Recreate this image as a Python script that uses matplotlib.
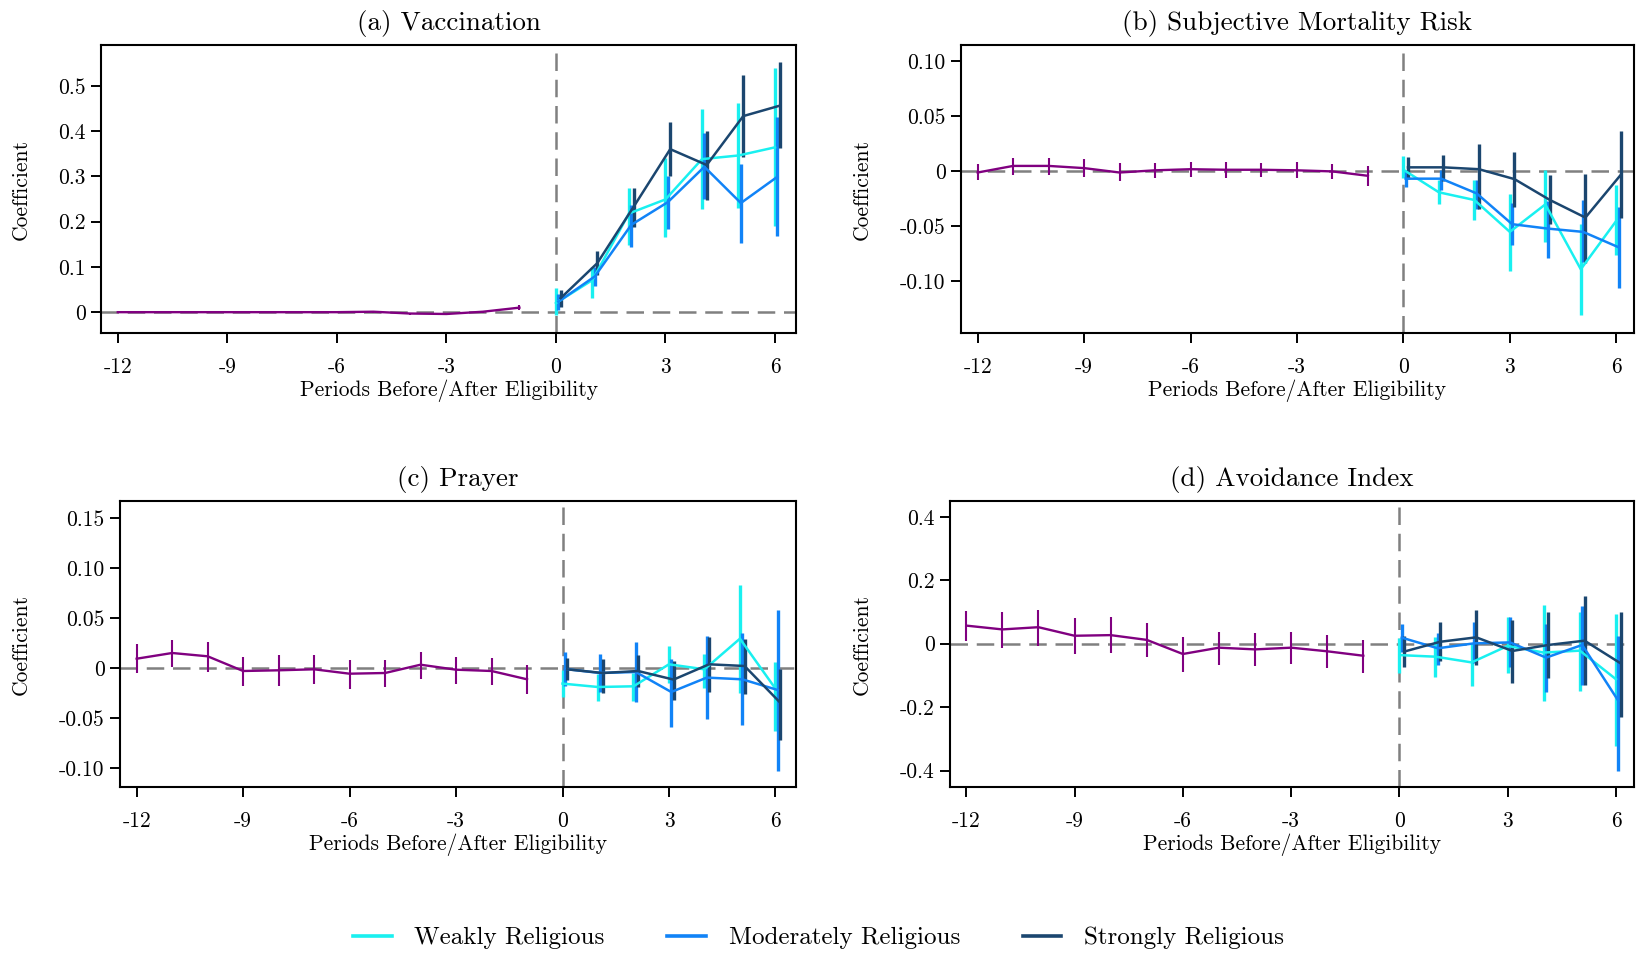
import numpy as np
import matplotlib
matplotlib.use("Agg")
import matplotlib.pyplot as plt
from matplotlib.lines import Line2D

plt.rcParams["font.family"] = ["cmr10", "DejaVu Serif"]
plt.rcParams["mathtext.fontset"] = "cm"
plt.rcParams["axes.unicode_minus"] = False

# event time
pre_periods = np.arange(-12, 0)
post_periods = np.arange(0, 7)
xtick_vals = [-12, -9, -6, -3, 0, 3, 6]
xtick_labels = ["-12", "-9", "-6", "-3", "0", "3", "6"]

groups = ["Weakly Religious", "Moderately Religious", "Strongly Religious"]

# (a) Vaccination
a_pre_coef = [0, 0, 0, 0, 0, 0, 0, 0.001, -0.003, -0.004, 0.001, 0.010]
a_pre_lo = [-0.001, -0.001, -0.001, -0.001, -0.001, -0.001, -0.001, -0.001, -0.006, -0.006, -0.001, 0.004]
a_pre_hi = [0.001, 0.001, 0.001, 0.001, 0.001, 0.002, 0.002, 0.002, -0.002, -0.002, 0.003, 0.015]
a_weak_coef = [0.020, 0.071, 0.218, 0.249, 0.338, 0.346, 0.364]
a_weak_lo = [-0.006, 0.031, 0.149, 0.166, 0.227, 0.230, 0.191]
a_weak_hi = [0.053, 0.100, 0.274, 0.340, 0.448, 0.461, 0.539]
a_mod_coef = [0.023, 0.079, 0.193, 0.243, 0.321, 0.241, 0.299]
a_mod_lo = [0.005, 0.057, 0.143, 0.184, 0.249, 0.152, 0.168]
a_mod_hi = [0.040, 0.100, 0.237, 0.301, 0.396, 0.327, 0.430]
a_strong_coef = [0.031, 0.108, 0.233, 0.360, 0.325, 0.433, 0.456]
a_strong_lo = [0.012, 0.082, 0.188, 0.301, 0.248, 0.343, 0.362]
a_strong_hi = [0.049, 0.136, 0.274, 0.419, 0.399, 0.524, 0.553]

# (b) Subjective Mortality Risk
b_pre_coef = [-0.001, 0.005, 0.005, 0.003, -0.001, 0.001, 0.002, 0.0015, 0.0015, 0.001, 0.000, -0.004]
b_pre_lo = [-0.008, -0.003, -0.003, -0.005, -0.009, -0.006, -0.005, -0.006, -0.005, -0.006, -0.007, -0.013]
b_pre_hi = [0.007, 0.012, 0.012, 0.011, 0.008, 0.008, 0.009, 0.009, 0.008, 0.009, 0.007, 0.005]
b_weak_coef = [0.0015, -0.019, -0.026, -0.055, -0.030, -0.089, -0.045]
b_weak_lo = [-0.006, -0.030, -0.044, -0.091, -0.064, -0.131, -0.076]
b_weak_hi = [0.014, -0.0075, -0.008, -0.021, 0.0015, -0.048, -0.012]
b_mod_coef = [-0.0066, -0.0066, -0.020, -0.048, -0.052, -0.055, -0.069]
b_mod_lo = [-0.014, -0.017, -0.034, -0.067, -0.079, -0.082, -0.106]
b_mod_hi = [0.0015, 0.0015, -0.0076, -0.029, -0.027, -0.026, -0.032]
b_strong_coef = [0.0037, 0.0037, 0.002, -0.007, -0.026, -0.042, -0.003]
b_strong_lo = [-0.007, -0.009, -0.034, -0.032, -0.048, -0.083, -0.042]
b_strong_hi = [0.013, 0.015, 0.025, 0.018, -0.003, -0.002, 0.037]

# (c) Prayer
c_pre_coef = [0.0093, 0.015, 0.0117, -0.003, -0.0023, -0.0013, -0.0057, -0.005, 0.0033, -0.0017, -0.003, -0.0113]
c_pre_lo = [-0.005, 0.001, -0.004, -0.018, -0.018, -0.016, -0.0206, -0.019, -0.0107, -0.0156, -0.017, -0.0256]
c_pre_hi = [0.024, 0.028, 0.026, 0.011, 0.0127, 0.0134, 0.008, 0.008, 0.016, 0.011, 0.0104, 0.0027]
c_weak_coef = [-0.0156, -0.019, -0.0183, 0.0037, -0.0013, 0.0293, -0.0206]
c_weak_lo = [-0.029, -0.033, -0.033, -0.015, -0.0196, -0.025, -0.063]
c_weak_hi = [-0.0023, -0.0056, -0.005, 0.0217, 0.0144, 0.083, 0.006]
c_mod_coef = [-0.001, -0.005, -0.004, -0.024, -0.0096, -0.0113, -0.022]
c_mod_lo = [-0.018, -0.024, -0.034, -0.059, -0.0505, -0.057, -0.103]
c_mod_hi = [0.016, 0.0144, 0.026, 0.0093, 0.0316, 0.035, 0.058]
c_strong_coef = [-0.0013, -0.005, -0.003, -0.0116, 0.0037, 0.002, -0.0345]
c_strong_lo = [-0.0123, -0.0246, -0.019, -0.0316, -0.024, -0.0263, -0.0715]
c_strong_hi = [0.0104, 0.0087, 0.0127, 0.007, 0.031, 0.0293, -0.0007]

# (d) Avoidance Index
d_pre_coef = [0.057, 0.045, 0.052, 0.025, 0.027, 0.012, -0.0325, -0.0126, -0.018, -0.0126, -0.024, -0.038]
d_pre_lo = [0.009, -0.015, -0.007, -0.032, -0.030, -0.043, -0.088, -0.067, -0.069, -0.064, -0.076, -0.091]
d_pre_hi = [0.104, 0.101, 0.106, 0.082, 0.083, 0.066, 0.020, 0.038, 0.033, 0.038, 0.027, 0.012]
d_weak_coef = [-0.036, -0.041, -0.059, -0.007, -0.028, -0.022, -0.112]
d_weak_lo = [-0.091, -0.106, -0.132, -0.093, -0.180, -0.148, -0.322]
d_weak_hi = [0.017, 0.022, 0.001, 0.085, 0.122, 0.101, 0.094]
d_mod_coef = [0.019, -0.0145, 0.001, 0.004, -0.044, -0.004, -0.180]
d_mod_lo = [-0.025, -0.067, -0.060, -0.073, -0.151, -0.130, -0.400]
d_mod_hi = [0.062, 0.035, 0.068, 0.083, 0.062, 0.119, 0.025]
d_strong_coef = [-0.025, 0.006, 0.020, -0.023, -0.004, 0.0095, -0.062]
d_strong_lo = [-0.074, -0.054, -0.067, -0.123, -0.109, -0.130, -0.232]
d_strong_hi = [0.024, 0.069, 0.106, 0.075, 0.100, 0.150, 0.101]

a_yticks = [0, 0.1, 0.2, 0.3, 0.4, 0.5]
a_ylabels = ["0", "0.1", "0.2", "0.3", "0.4", "0.5"]
b_yticks = [-0.10, -0.05, 0, 0.05, 0.10]
b_ylabels = ["-0.10", "-0.05", "0", "0.05", "0.10"]
c_yticks = [-0.10, -0.05, 0, 0.05, 0.10, 0.15]
c_ylabels = ["-0.10", "-0.05", "0", "0.05", "0.10", "0.15"]
d_yticks = [-0.4, -0.2, 0, 0.2, 0.4]
d_ylabels = ["-0.4", "-0.2", "0", "0.2", "0.4"]

pre_color = "#800080"
colors = ["#19F0F0", "#1183F7", "#1B466F"]
offsets = [0.0, 0.065, 0.13]

W, H = 1637, 955
fig = plt.figure(figsize=(W / 100, H / 100), dpi=100)


def px_axes(left, right, top, bottom):
    return fig.add_axes([left / W, 1 - bottom / H, (right - left) / W, (bottom - top) / H])


panels = [
    dict(title="(a) Vaccination", box=(101, 796, 45, 333), xlim=(-12.46, 6.575), ylim=(-0.046, 0.59),
         yt=a_yticks, yl=a_ylabels,
         pre=(a_pre_coef, a_pre_lo, a_pre_hi),
         post=[(a_weak_coef, a_weak_lo, a_weak_hi), (a_mod_coef, a_mod_lo, a_mod_hi),
               (a_strong_coef, a_strong_lo, a_strong_hi)]),
    dict(title="(b) Subjective Mortality Risk", box=(961, 1634, 45, 333), xlim=(-12.47, 6.5), ylim=(-0.147, 0.115),
         yt=b_yticks, yl=b_ylabels,
         pre=(b_pre_coef, b_pre_lo, b_pre_hi),
         post=[(b_weak_coef, b_weak_lo, b_weak_hi), (b_mod_coef, b_mod_lo, b_mod_hi),
               (b_strong_coef, b_strong_lo, b_strong_hi)]),
    dict(title="(c) Prayer", box=(120, 796, 501, 787), xlim=(-12.47, 6.58), ylim=(-0.119, 0.167),
         yt=c_yticks, yl=c_ylabels,
         pre=(c_pre_coef, c_pre_lo, c_pre_hi),
         post=[(c_weak_coef, c_weak_lo, c_weak_hi), (c_mod_coef, c_mod_lo, c_mod_hi),
               (c_strong_coef, c_strong_lo, c_strong_hi)]),
    dict(title="(d) Avoidance Index", box=(950, 1634, 501, 787), xlim=(-12.45, 6.5), ylim=(-0.452, 0.45),
         yt=d_yticks, yl=d_ylabels,
         pre=(d_pre_coef, d_pre_lo, d_pre_hi),
         post=[(d_weak_coef, d_weak_lo, d_weak_hi), (d_mod_coef, d_mod_lo, d_mod_hi),
               (d_strong_coef, d_strong_lo, d_strong_hi)]),
]

for p in panels:
    left, right, top, bottom = p["box"]
    ax = px_axes(left, right, top, bottom)

    ax.axhline(0, color="#808080", lw=1.8, ls=(0, (7, 3.5)), zorder=1)
    ax.axvline(0, color="#808080", lw=1.8, ls=(0, (7, 3.5)), zorder=1)

    coef, lo, hi = p["pre"]
    ax.vlines(pre_periods, lo, hi, color=pre_color, lw=1.5, zorder=3)
    ax.plot(pre_periods, coef, color=pre_color, lw=1.7, zorder=3)

    for (coef, lo, hi), col, off in zip(p["post"], colors, offsets):
        xs = post_periods + off
        ax.vlines(xs, lo, hi, color=col, lw=2.4, zorder=3)
        ax.plot(xs, coef, color=col, lw=1.8, zorder=4)

    ax.set_xlim(*p["xlim"])
    ax.set_ylim(*p["ylim"])
    ax.set_xticks(xtick_vals)
    ax.set_xticklabels(xtick_labels)
    ax.set_yticks(p["yt"])
    ax.set_yticklabels(p["yl"])
    ax.tick_params(direction="out", length=7, width=1.4, labelsize=15.5)
    ax.tick_params(axis="x", pad=10.5)
    ax.tick_params(axis="y", pad=4)
    for s in ax.spines.values():
        s.set_linewidth(1.5)

    ax.set_title(p["title"], fontsize=19.5, pad=11)
    ax.set_xlabel("Periods Before/After Eligibility", fontsize=15.5, labelpad=2)
    ax.set_ylabel("Coefficient", fontsize=15.5, va="center")
    ylab_x = 21 if left < 500 else 862
    ax.yaxis.set_label_coords(ylab_x / W, 1 - (top + bottom) / 2 / H, transform=fig.transFigure)

handles = [Line2D([0], [0], color=c, lw=2.6) for c in colors]
fig.legend(handles, groups, loc="center", bbox_to_anchor=(0.5, 1 - 938 / H), ncol=3, frameon=False,
           fontsize=18, handlelength=1.55, handletextpad=0.9, columnspacing=2.5)

fig.savefig("out.png", dpi=100)
